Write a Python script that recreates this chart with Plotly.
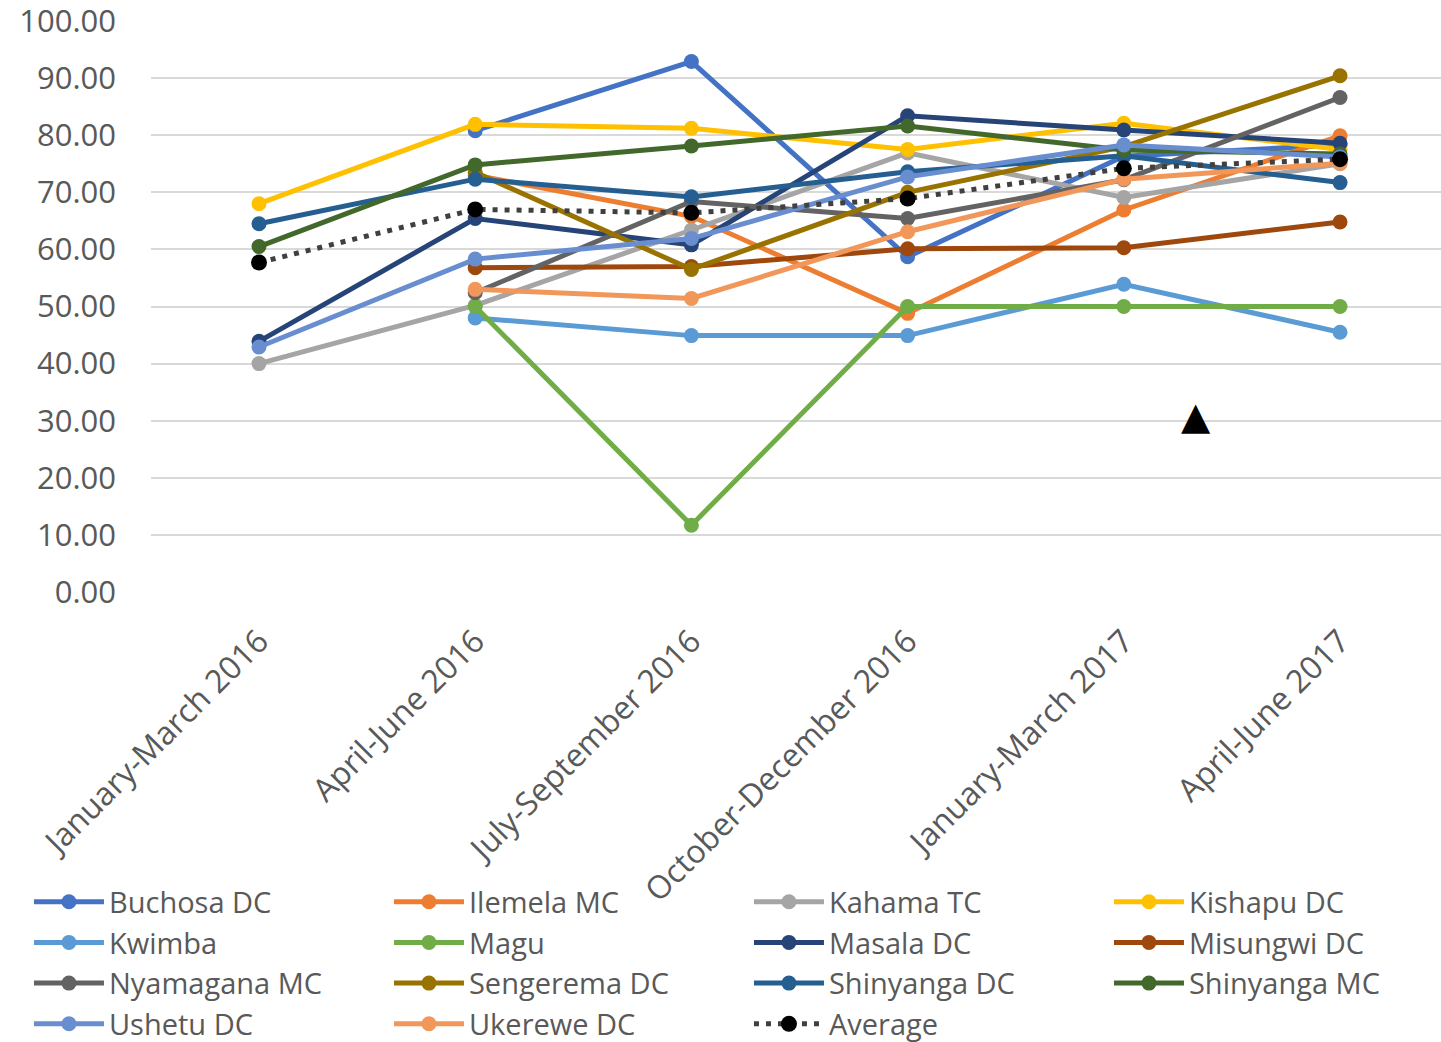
import plotly.graph_objects as go

quarters = [
    "January-March 2016",
    "April-June 2016",
    "July-September 2016",
    "October-December 2016",
    "January-March 2017",
    "April-June 2017",
]

buchosa_dc = [None, 80.8, 92.9, 58.7, 76.3, 78.3]
ilemela_mc = [None, 73.0, 65.8, 48.8, 66.9, 79.9]
kahama_tc = [40.0, 50.2, 63.4, 76.9, 69.1, 75.0]
kishapu_dc = [68.0, 81.9, 81.2, 77.5, 82.1, 77.5]
kwimba = [None, 48.0, 44.9, 44.9, 53.9, 45.5]
magu = [None, 50.0, 11.7, 50.0, 50.0, 50.0]
masala_dc = [43.9, 65.4, 60.8, 83.4, 80.9, 78.6]
misungwi_dc = [None, 56.8, 57.0, 60.1, 60.3, 64.8]
nyamagana_mc = [None, 52.4, 68.4, 65.4, 72.2, 86.6]
sengerema_dc = [None, 73.5, 56.5, 70.0, 78.0, 90.4]
shinyanga_dc = [64.5, 72.3, 69.2, 73.6, 76.4, 71.7]
shinyanga_mc = [60.5, 74.8, 78.1, 81.6, 77.4, 76.7]
ushetu_dc = [42.9, 58.3, 61.9, 72.7, 78.3, 76.2]
ukerewe_dc = [None, 53.0, 51.4, 63.1, 72.3, 75.1]
average = [57.7, 67.0, 66.4, 68.9, 74.2, 75.8]

series = [
    ("Buchosa DC", buchosa_dc, "#4472C4"),
    ("Ilemela MC", ilemela_mc, "#ED7D31"),
    ("Kahama TC", kahama_tc, "#A5A5A5"),
    ("Kishapu DC", kishapu_dc, "#FFC000"),
    ("Kwimba", kwimba, "#5B9BD5"),
    ("Magu", magu, "#70AD47"),
    ("Masala DC", masala_dc, "#264478"),
    ("Misungwi DC", misungwi_dc, "#9E480E"),
    ("Nyamagana MC", nyamagana_mc, "#636363"),
    ("Sengerema DC", sengerema_dc, "#997300"),
    ("Shinyanga DC", shinyanga_dc, "#255E91"),
    ("Shinyanga MC", shinyanga_mc, "#43682B"),
    ("Ushetu DC", ushetu_dc, "#698ED0"),
    ("Ukerewe DC", ukerewe_dc, "#F1975A"),
]

FONT = "Open Sans"
TEXT_COLOR = "#595959"

fig = go.Figure()

for name, values, color in series:
    fig.add_trace(go.Scatter(
        x=quarters, y=values, name=name, mode="lines+markers",
        line=dict(color=color, width=5),
        marker=dict(color=color, size=15),
        connectgaps=False,
    ))

fig.add_trace(go.Scatter(
    x=quarters, y=average, name="Average", mode="lines+markers",
    line=dict(color="#404040", width=5, dash="5px,7px"),
    marker=dict(color="black", size=16),
))

# stray triangle marker drawn on the chart
fig.add_annotation(
    x=4.334, y=30.8, xref="x", yref="y", text="▲", showarrow=False,
    font=dict(family="DejaVu Sans", size=38, color="black"),
)

fig.update_layout(
    width=1441, height=1042,
    margin=dict(l=151, r=0, t=21, b=450, autoexpand=False),
    paper_bgcolor="white", plot_bgcolor="white",
    font=dict(family=FONT, size=30, color=TEXT_COLOR),
    showlegend=True,
    legend=dict(
        orientation="h", x=-0.0946, xanchor="left", y=-0.498, yanchor="top",
        entrywidth=275, entrywidthmode="pixels", itemwidth=70,
        font=dict(family=FONT, size=29, color=TEXT_COLOR),
        tracegroupgap=0, traceorder="normal",
        bgcolor="rgba(0,0,0,0)",
    ),
    xaxis=dict(
        type="category", range=[-0.4995, 5.467], automargin=False,
        showgrid=False, showline=False, zeroline=False,
        tickangle=-45, ticks="", ticklabelstandoff=23,
        tickfont=dict(family=FONT, size=32, color=TEXT_COLOR),
    ),
    yaxis=dict(
        range=[0, 100.0001], dtick=10, tickformat=".2f", automargin=False,
        showgrid=True, gridcolor="#D9D9D9", gridwidth=2,
        zeroline=False, showline=False, ticks="", ticklabelstandoff=34,
        ticklabeloverflow="allow",
        tickfont=dict(family=FONT, size=31, color=TEXT_COLOR),
    ),
)

fig.write_html("out.html")
